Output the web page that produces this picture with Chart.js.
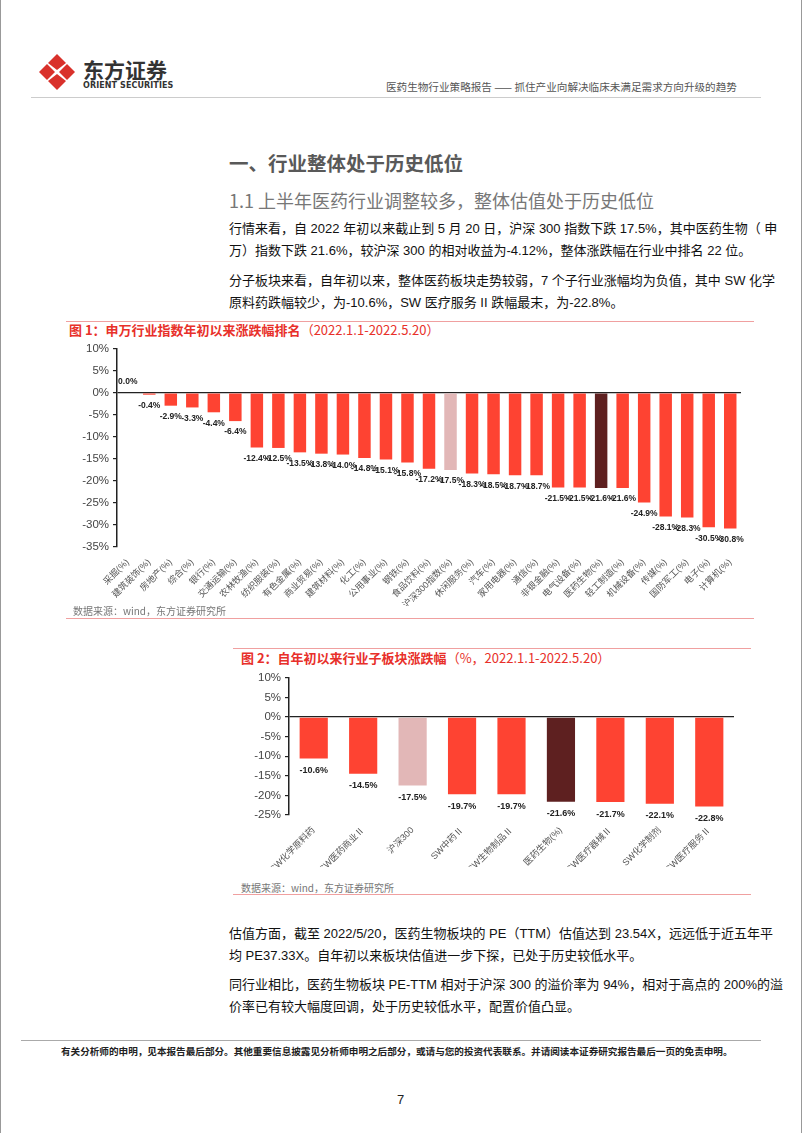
<!DOCTYPE html>
<html>
<head>
<meta charset="utf-8">
<script src="https://cdn.jsdelivr.net/npm/chart.js@4/dist/chart.umd.min.js"></script>
<style>
  body { margin: 0; background: #fff; font-family: "Liberation Sans", "Noto Sans CJK SC", sans-serif; }
  #page { position: relative; width: 802px; height: 1133px; overflow: hidden; border-left: 1px solid #999; border-right: 1px solid #999; box-sizing: border-box; }
  .abs { position: absolute; }
  .line { position: absolute; height: 1px; }
  .txt { position: absolute; font-size: 13px; color: #111; width: 523px; left: 228px; }
  .txt div { height: 22px; line-height: 22px; text-align: justify; text-align-last: justify; white-space: nowrap; }
  .txt div.last { text-align-last: left; }
  .ctitle { position: absolute; font-size: 13px; font-weight: bold; color: #e8302a; font-family: "Noto Sans CJK SC", sans-serif; }
  .ctitle span { font-weight: normal; }
  .src { position: absolute; font-size: 10px; color: #777; font-family: "Noto Sans CJK SC", sans-serif; }
</style>
</head>
<body>
<div id="page">
  <!-- header -->
  <svg class="abs" style="left:36px;top:53px" width="40" height="38" viewBox="0 0 40 38">
    <g fill="#d9312b">
      <path d="M20 1 L29 10 L20 17 L11 10 Z"/>
      <path d="M10 11 L18 19 L10 27 L2 19 Z"/>
      <path d="M30 11 L38 19 L30 27 L22 19 Z"/>
      <path d="M20 21 L29 28 L20 37 L11 28 Z"/>
    </g>
  </svg>
  <div class="abs" style="left:82px;top:56px;font-size:21px;font-weight:bold;color:#333;font-family:'Noto Sans CJK SC';line-height:26px">东方证券</div>
  <div class="abs" style="left:82px;top:81px;font-size:8px;font-weight:bold;color:#333;font-family:'DejaVu Sans';letter-spacing:0.1px">ORIENT SECURITIES</div>
  <div class="abs" style="left:385px;top:79px;font-size:10.6px;color:#555;font-family:'Noto Sans CJK SC'">医药生物行业策略报告 —— 抓住产业向解决临床未满足需求方向升级的趋势</div>
  <div class="line" style="left:30px;top:97px;width:730px;background:#ccc"></div>

  <!-- headings -->
  <div class="abs" style="left:228px;top:148px;font-size:19.5px;font-weight:bold;color:#595959;font-family:'Noto Sans CJK SC'">一、行业整体处于历史低位</div>
  <div class="abs" style="left:228px;top:187px;font-size:18px;color:#777;font-family:'Noto Sans CJK SC'">1.1 上半年医药行业调整较多，整体估值处于历史低位</div>

  <div class="txt" style="top:218px">
    <div>行情来看，自 2022 年初以来截止到 5 月 20 日，沪深 300 指数下跌 17.5%，其中医药生物（ 申</div>
    <div class="last">万）指数下跌 21.6%，较沪深 300 的相对收益为-4.12%，整体涨跌幅在行业中排名 22 位。</div>
  </div>
  <div class="txt" style="top:270px">
    <div>分子板块来看，自年初以来，整体医药板块走势较弱，7 个子行业涨幅均为负值，其中 SW 化学</div>
    <div class="last">原料药跌幅较少，为-10.6%，SW 医疗服务 II 跌幅最末，为-22.8%。</div>
  </div>

  <!-- chart 1 -->
  <div class="line" style="left:65px;top:321px;width:688px;background:#f0a0a0"></div>
  <div class="ctitle" style="left:68px;top:320px">图 1：申万行业指数年初以来涨跌幅排名<span>（2022.1.1-2022.5.20）</span></div>
  <div class="abs" style="left:60px;top:338px;width:700px;height:268px"><canvas id="chart1"></canvas></div>
  <div class="src" style="left:72px;top:603px">数据来源：wind，东方证券研究所</div>
  <div class="line" style="left:65px;top:618px;width:688px;background:#f0a0a0"></div>

  <!-- chart 2 -->
  <div class="line" style="left:232px;top:648px;width:518px;background:#f0a0a0"></div>
  <div class="ctitle" style="left:240px;top:648px">图 2：自年初以来行业子板块涨跌幅<span>（%，2022.1.1-2022.5.20）</span></div>
  <div class="abs" style="left:240px;top:667px;width:500px;height:200px"><canvas id="chart2"></canvas></div>
  <div class="src" style="left:240px;top:880px">数据来源：wind，东方证券研究所</div>
  <div class="line" style="left:232px;top:894px;width:518px;background:#f0a0a0"></div>

  <div class="txt" style="top:923px">
    <div>估值方面，截至 2022/5/20，医药生物板块的 PE（TTM）估值达到 23.54X，远远低于近五年平</div>
    <div class="last">均 PE37.33X。自年初以来板块估值进一步下探，已处于历史较低水平。</div>
  </div>
  <div class="txt" style="top:974px">
    <div>同行业相比，医药生物板块 PE-TTM 相对于沪深 300 的溢价率为 94%，相对于高点的 200%的溢</div>
    <div class="last">价率已有较大幅度回调，处于历史较低水平，配置价值凸显。</div>
  </div>

  <!-- footer -->
  <div class="line" style="left:20px;top:1040px;width:740px;background:#aaa"></div>
  <div class="abs" style="left:60px;top:1044px;font-size:9.6px;font-weight:bold;color:#222;font-family:'Noto Sans CJK SC'">有关分析师的申明，见本报告最后部分。其他重要信息披露见分析师申明之后部分，或请与您的投资代表联系。并请阅读本证券研究报告最后一页的免责申明。</div>
  <div class="abs" style="left:396px;top:1092px;font-size:13px;color:#222;font-family:'Liberation Sans'">7</div>
</div>

<script>
// chart 1 data
var industries = ["采掘(%)", "建筑装饰(%)", "房地产(%)", "综合(%)", "银行(%)", "交通运输(%)", "农林牧渔(%)", "纺织服装(%)", "有色金属(%)", "商业贸易(%)", "建筑材料(%)", "化工(%)", "公用事业(%)", "钢铁(%)", "食品饮料(%)", "沪深300指数(%)", "休闲服务(%)", "汽车(%)", "家用电器(%)", "通信(%)", "非银金融(%)", "电气设备(%)", "医药生物(%)", "轻工制造(%)", "机械设备(%)", "传媒(%)", "国防军工(%)", "电子(%)", "计算机(%)"];
var industryChange = [0.0, -0.4, -2.9, -3.3, -4.4, -6.4, -12.4, -12.5, -13.5, -13.8, -14.0, -14.8, -15.1, -15.8, -17.2, -17.5, -18.3, -18.5, -18.7, -18.7, -21.5, -21.5, -21.6, -21.6, -24.9, -28.1, -28.3, -30.5, -30.8];

// chart 2 data
var subSectors = ["SW化学原料药", "SW医药商业Ⅱ", "沪深300", "SW中药Ⅱ", "SW生物制品Ⅱ", "医药生物(%)", "SW医疗器械Ⅱ", "SW化学制剂", "SW医疗服务Ⅱ"];
var subChange = [-10.6, -14.5, -17.5, -19.7, -19.7, -21.6, -21.7, -22.1, -22.8];

var RED = '#fe4332', PINK = '#e2b7b7', DARK = '#5e2020';

function barColors(labels) {
  return labels.map(function (l) {
    if (l.indexOf('沪深300') === 0) return PINK;
    if (l === '医药生物(%)') return DARK;
    return RED;
  });
}

// value labels under each bar
var valueLabels = {
  id: 'valueLabels',
  afterDatasetsDraw: function (chart, args, opts) {
    var ctx = chart.ctx;
    var meta = chart.getDatasetMeta(0);
    ctx.save();
    ctx.font = 'bold ' + opts.size + 'px "Liberation Sans", Arial';
    ctx.fillStyle = '#222';
    ctx.textAlign = 'center';
    ctx.textBaseline = 'middle';
    meta.data.forEach(function (bar, i) {
      var v = chart.data.datasets[0].data[i];
      var y = v >= 0 ? bar.y - opts.gap : bar.y + opts.gap;
      ctx.fillText(v.toFixed(1) + '%', bar.x, y);
    });
    ctx.restore();
  }
};

function makeChart(id, labels, values, o) {
  var ctx = document.getElementById(id).getContext('2d');
  return new Chart(ctx, {
    type: 'bar',
    data: {
      labels: labels,
      datasets: [{
        data: values,
        backgroundColor: barColors(labels),
        barPercentage: o.bar,
        categoryPercentage: 1
      }]
    },
    plugins: [valueLabels],
    options: {
      responsive: true,
      maintainAspectRatio: false,
      animation: false,
      layout: { padding: { top: o.top, right: o.right, left: 0, bottom: 0 } },
      plugins: {
        legend: { display: false },
        tooltip: { enabled: false },
        valueLabels: { size: o.labelSize, gap: o.gap }
      },
      scales: {
        y: {
          min: o.min, max: 10,
          afterFit: function (s) { s.width = o.yWidth; },
          ticks: {
            stepSize: 5,
            color: '#444',
            padding: 4,
            font: { size: 11.5, family: '"Liberation Sans", Arial' },
            callback: function (v) { return v + '%'; }
          },
          border: { display: true, color: '#222', width: 1.5 },
          grid: {
            drawOnChartArea: true,
            color: function (c) { return c.tick && c.tick.value === 0 ? '#222' : 'rgba(0,0,0,0)'; },
            lineWidth: 1.2,
            tickColor: '#222',
            tickLength: 4
          }
        },
        x: {
          afterFit: function (s) { s.height = o.xHeight; },
          ticks: {
            minRotation: 45, maxRotation: 45,
            autoSkip: false,
            color: '#555',
            padding: 2,
            font: { size: o.xSize, family: '"Liberation Sans", "Noto Sans CJK SC"' }
          },
          border: { display: false },
          grid: { display: false }
        }
      }
    }
  });
}

makeChart('chart1', industries, industryChange, {
  bar: 0.58, top: 10, right: 20, min: -35, yWidth: 56, xHeight: 59, xSize: 9, labelSize: 8.5, gap: 11
});
makeChart('chart2', subSectors, subChange, {
  bar: 0.57, top: 8, right: 7, min: -25, yWidth: 48, xHeight: 52, xSize: 9, labelSize: 9, gap: 12
});
</script>
</body>
</html>
